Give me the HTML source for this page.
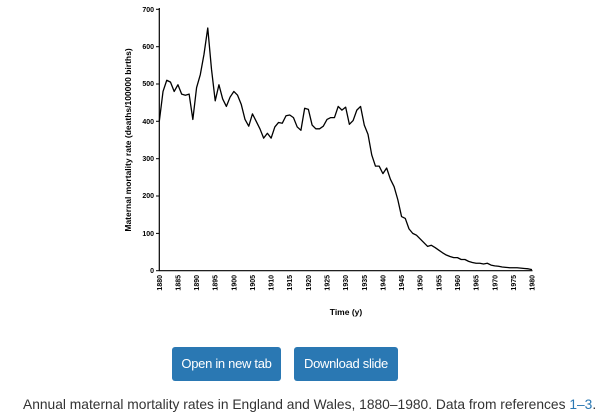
<!DOCTYPE html>
<html><head><style>
body{margin:0;width:602px;height:418px;background:#fff;position:relative;font-family:"Liberation Sans",sans-serif;overflow:hidden}
.btn{position:absolute;top:347px;height:34px;background:#2a78b3;color:#fff;border-radius:3px;font-size:13px;line-height:34px;text-align:center;letter-spacing:-0.3px}
.cap{position:absolute;left:23px;top:397px;font-size:13.8px;color:#333;white-space:nowrap}
</style></head><body>
<svg width="602" height="335" style="position:absolute;left:0;top:0" font-family="Liberation Sans, sans-serif" font-weight="bold">
<g stroke="#000" stroke-width="1.2" fill="none">
<line x1="159.3" y1="8" x2="159.3" y2="271"/>
<line x1="159" y1="270.7" x2="532.5" y2="270.7"/>
</g>
<g font-size="7" text-anchor="end">
<text x="154" y="273">0</text><text x="154" y="236">100</text><text x="154" y="198">200</text><text x="154" y="161">300</text><text x="154" y="124">400</text><text x="154" y="86">500</text><text x="154" y="49">600</text><text x="154" y="12">700</text>
</g>
<g stroke="#000" stroke-width="1">
<line x1="156" y1="270.7" x2="159" y2="270.7"/><line x1="156" y1="233.4" x2="159" y2="233.4"/><line x1="156" y1="196" x2="159" y2="196"/><line x1="156" y1="158.7" x2="159" y2="158.7"/><line x1="156" y1="121.3" x2="159" y2="121.3"/><line x1="156" y1="84" x2="159" y2="84"/><line x1="156" y1="46.7" x2="159" y2="46.7"/><line x1="156" y1="9.3" x2="159" y2="9.3"/>
</g>
<g font-size="7" text-anchor="end">
<text transform="translate(161.8,275) rotate(-90)">1880</text>
<text transform="translate(180.4,275) rotate(-90)">1885</text>
<text transform="translate(199.0,275) rotate(-90)">1890</text>
<text transform="translate(217.7,275) rotate(-90)">1895</text>
<text transform="translate(236.3,275) rotate(-90)">1900</text>
<text transform="translate(255.0,275) rotate(-90)">1905</text>
<text transform="translate(273.6,275) rotate(-90)">1910</text>
<text transform="translate(292.2,275) rotate(-90)">1915</text>
<text transform="translate(310.9,275) rotate(-90)">1920</text>
<text transform="translate(329.5,275) rotate(-90)">1925</text>
<text transform="translate(348.2,275) rotate(-90)">1930</text>
<text transform="translate(366.8,275) rotate(-90)">1935</text>
<text transform="translate(385.4,275) rotate(-90)">1940</text>
<text transform="translate(404.1,275) rotate(-90)">1945</text>
<text transform="translate(422.7,275) rotate(-90)">1950</text>
<text transform="translate(441.4,275) rotate(-90)">1955</text>
<text transform="translate(460.0,275) rotate(-90)">1960</text>
<text transform="translate(478.6,275) rotate(-90)">1965</text>
<text transform="translate(497.3,275) rotate(-90)">1970</text>
<text transform="translate(515.9,275) rotate(-90)">1975</text>
<text transform="translate(534.6,275) rotate(-90)">1980</text>
</g>
<text x="346" y="315" font-size="8.5" text-anchor="middle">Time (y)</text>
<text transform="translate(131,140) rotate(-90)" font-size="8.5" text-anchor="middle">Maternal mortality rate (deaths/100000 births)</text>
<polyline transform="translate(159.3,270.7) scale(3.727,-0.3734)" vector-effect="non-scaling-stroke" fill="none" stroke="#000" stroke-width="1.3" stroke-linejoin="round" points="0,400 1,480 2,510 3,505 4,480 5,498 6,473 7,470 8,473 9,405 10,490 11,525 12,580 13,650 14,540 15,455 16,498 17,460 18,440 19,465 20,480 21,470 22,445 23,405 24,387 25,420 26,400 27,380 28,355 29,368 30,355 31,385 32,397 33,395 34,415 35,417 36,410 37,385 38,376 39,435 40,432 41,390 42,380 43,380 44,387 45,405 46,410 47,410 48,440 49,430 50,438 51,392 52,402 53,430 54,440 55,390 56,365 57,310 58,280 59,280 60,260 61,275 62,245 63,225 64,190 65,145 66,140 67,112 68,100 69,95 70,85 71,75 72,65 73,68 74,62 75,55 76,48 77,42 78,38 79,35 80,35 81,30 82,30 83,25 84,22 85,20 86,20 87,18 88,20 89,15 90,13 91,12 92,10 93,9 94,8 95,8 96,8 97,7 98,6 99,5 100,3"/>
</svg>
<div class="btn" style="left:172px;width:109px">Open in new tab</div>
<div class="btn" style="left:294px;width:104px">Download slide</div>
<div class="cap">Annual maternal mortality rates in England and Wales, 1880–1980. Data from references <span style="color:#2a78b3">1–3</span>.</div>
</body></html>
